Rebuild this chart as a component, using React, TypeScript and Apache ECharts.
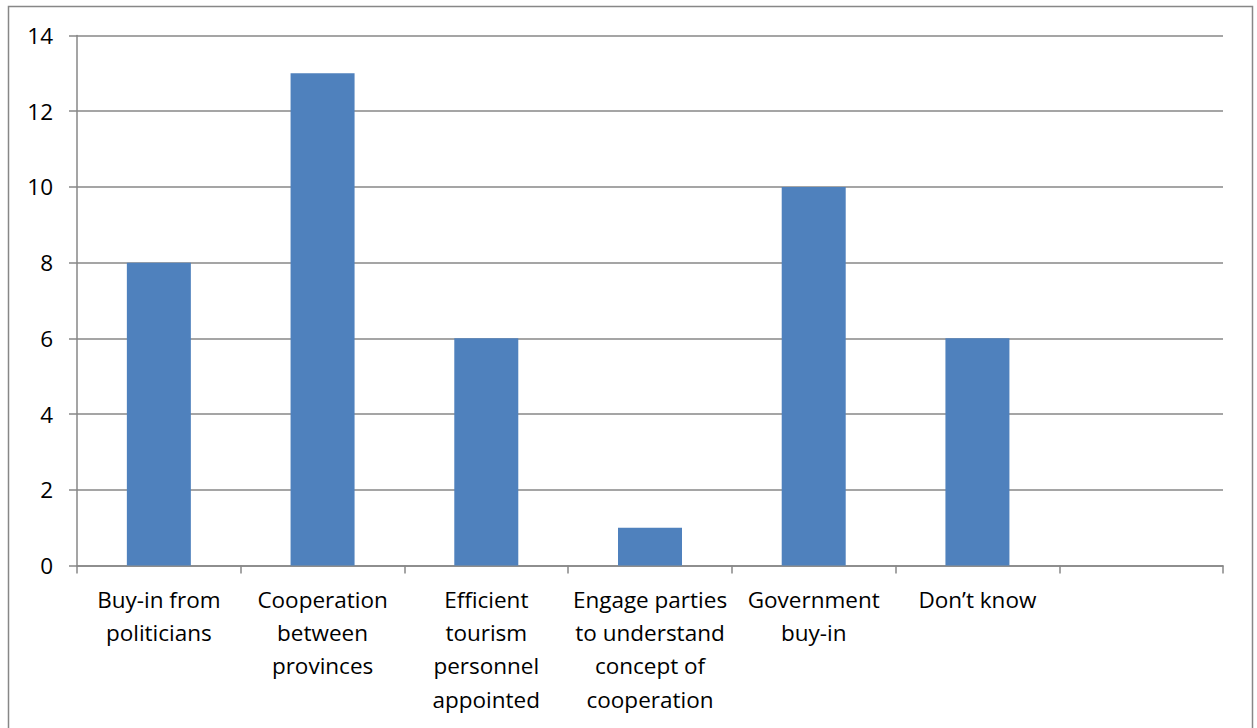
import React, { useEffect, useRef } from "react";
import * as echarts from "echarts";

const categories = [
  "Buy-in from\npoliticians",
  "Cooperation\nbetween\nprovinces",
  "Efficient\ntourism\npersonnel\nappointed",
  "Engage parties\nto understand\nconcept of\ncooperation",
  "Government\nbuy-in",
  "Don\u2019t know",
  "",
];
const values: (number | null)[] = [8, 13, 6, 1, 10, 6, null];
const yTicks = { min: 0, max: 14, interval: 2 };

const FONT = "'Open Sans', 'Noto Sans', sans-serif";
const GRAY = "#878787";

export default function App() {
  const ref = useRef<HTMLDivElement>(null);
  useEffect(() => {
    if (!ref.current) return;
    const chart = echarts.init(ref.current, undefined, { renderer: "svg" });
    chart.setOption({
      animation: false,
      backgroundColor: "#ffffff",
      graphic: [
        {
          type: "rect",
          shape: { x: 8.5, y: 6.5, width: 1244, height: 740 },
          style: { fill: "none", stroke: GRAY, lineWidth: 1.5 },
          silent: true,
        },
      ],
      grid: { left: 77, right: 34, top: 35.5, bottom: 162.5 },
      xAxis: {
        type: "category",
        data: categories,
        boundaryGap: true,
        axisLine: { lineStyle: { color: GRAY, width: 1.5 } },
        axisTick: { show: true, length: 8, alignWithLabel: false, lineStyle: { color: GRAY, width: 1.5 } },
        axisLabel: {
          interval: 0,
          margin: 17,
          color: "#000",
          fontFamily: FONT,
          fontSize: 22.5,
          lineHeight: 33.3,
          align: "center",
        },
      },
      yAxis: {
        type: "value",
        min: yTicks.min,
        max: yTicks.max,
        interval: yTicks.interval,
        axisLine: { show: true, lineStyle: { color: GRAY, width: 1.5 } },
        axisTick: { show: true, length: 8, lineStyle: { color: GRAY, width: 1.5 } },
        splitLine: { show: true, lineStyle: { color: GRAY, width: 1.5 } },
        axisLabel: {
          margin: 24,
          color: "#000",
          fontFamily: FONT,
          fontSize: 22.5,
        },
      },
      series: [
        {
          type: "bar",
          data: values,
          barWidth: 64,
          itemStyle: { color: "#4F81BD" },
        },
      ],
    });
    return () => chart.dispose();
  }, []);
  return (
    <div
      ref={ref}
      style={{ position: "fixed", left: 0, top: 0, width: 1257, height: 728 }}
    />
  );
}
